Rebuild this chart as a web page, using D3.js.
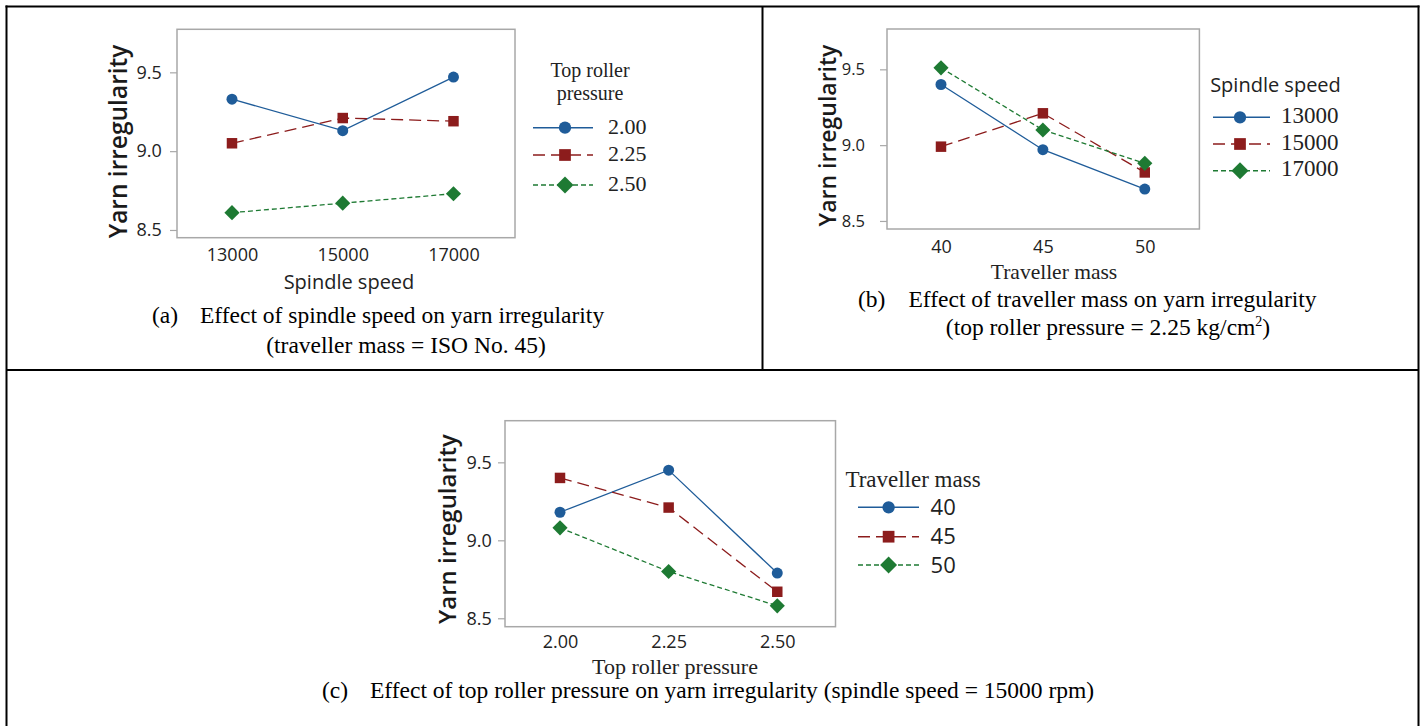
<!DOCTYPE html>
<html><head><meta charset="utf-8">
<script src="https://cdn.jsdelivr.net/npm/d3@7"></script>
<style>body{margin:0;background:#fff} svg{display:block}</style>
</head><body>
<svg id="chart" width="1426" height="726"></svg>
<script>
// ---------- data ----------
const spindleSpeeds = [13000, 15000, 17000];
const travellerMasses = [40, 45, 50];
const rollerPressures = [2.00, 2.25, 2.50];
const yTickValues = [8.5, 9.0, 9.5];

const aSeriesNames = ["2.00", "2.25", "2.50"];
const aPressure200 = [9.33, 9.13, 9.47];
const aPressure225 = [9.05, 9.21, 9.19];
const aPressure250 = [8.61, 8.67, 8.73];

const bSeriesNames = ["13000", "15000", "17000"];
const bSpeed13000 = [9.40, 8.97, 8.71];
const bSpeed15000 = [8.99, 9.21, 8.82];
const bSpeed17000 = [9.51, 9.10, 8.88];

const cSeriesNames = ["40", "45", "50"];
const cMass40 = [9.18, 9.45, 8.79];
const cMass45 = [9.40, 9.21, 8.67];
const cMass50 = [9.08, 8.80, 8.58];

// ---------- styles ----------
const SANS = "'Open Sans', 'Noto Sans', sans-serif";
const SERIF = "'Liberation Serif', 'Times New Roman', serif";
const frameColor = "#a8a8a8";
const seriesStyles = [
  {color: "#1f5c99", dash: null, symbol: "circle"},
  {color: "#8c1c1c", dash: "12,6", symbol: "square"},
  {color: "#1e7a33", dash: "5,3", symbol: "diamond"}
];

const svg = d3.select("#chart");

function symbolPath(kind, big) {
  const k = big ? 1.25 : 1;
  if (kind === "circle") return d3.symbol().type(d3.symbolCircle).size(95 * k)();
  if (kind === "square") return d3.symbol().type(d3.symbolSquare).size(110 * k)();
  return d3.symbol().type(d3.symbolSquare).size(115 * k)();
}

function drawPanel(p) {
  const g = svg.append("g");
  const x = d3.scaleLinear().domain(p.xDomain).range([p.left, p.right]);
  const y = d3.scaleLinear().domain(p.yDomain).range([p.bottom, p.top]);

  g.append("rect")
    .attr("x", p.left).attr("y", p.top)
    .attr("width", p.right - p.left).attr("height", p.bottom - p.top)
    .attr("fill", "none").attr("stroke", frameColor).attr("stroke-width", 1.5);

  // y axis
  const ya = g.append("g").attr("transform", `translate(${p.left},0)`)
    .call(d3.axisLeft(y).tickValues(yTickValues).tickFormat(d3.format(".1f")).tickSize(7).tickPadding(p.yPad));
  ya.select(".domain").remove();
  ya.selectAll(".tick line").attr("stroke", frameColor).attr("stroke-width", 1.2);
  ya.selectAll(".tick text").attr("font-family", SANS).attr("font-size", p.yTickSize).attr("fill", "#222");

  // x axis
  const xa = g.append("g").attr("transform", `translate(0,${p.bottom})`)
    .call(d3.axisBottom(x).tickValues(p.xValues).tickFormat(p.xFormat).tickSize(0));
  xa.select(".domain").remove();
  xa.selectAll(".tick text").attr("dy", null).attr("y", p.xLabelBaseline - p.bottom)
    .attr("font-family", SANS).attr("font-size", 18).attr("fill", "#222");

  // axis titles
  g.append("text").attr("x", p.xTitle.x).attr("y", p.xTitle.y).attr("text-anchor", "middle")
    .attr("font-family", p.xTitle.font).attr("font-size", p.xTitle.size).attr("fill", "#222")
    .text(p.xTitle.text);
  g.append("text").attr("transform", `translate(${p.yTitle.x},${p.yTitle.y}) rotate(-90)`)
    .attr("text-anchor", "middle").attr("dy", "0.35em")
    .attr("font-family", SANS).attr("font-size", p.yTitle.size).attr("font-weight", 600).attr("fill", "#1a1a1a")
    .text("Yarn irregularity");

  // series
  const line = d3.line().x((d, i) => x(p.xValues[i])).y(d => y(d));
  p.series.forEach((vals, si) => {
    const st = seriesStyles[si];
    g.append("path").attr("d", line(vals)).attr("fill", "none")
      .attr("stroke", st.color).attr("stroke-width", 1.3)
      .attr("stroke-dasharray", st.dash);
    g.selectAll(null).data(vals).enter().append("path")
      .attr("d", symbolPath(st.symbol, false))
      .attr("transform", (d, i) => `translate(${x(p.xValues[i])},${y(d)})` + (st.symbol === "diamond" ? " rotate(45)" : ""))
      .attr("fill", st.color);
  });

  // legend
  p.legend.titles.forEach(t => {
    g.append("text").attr("x", t.x).attr("y", t.y).attr("text-anchor", "middle")
      .attr("font-family", p.legend.titleFont).attr("font-size", p.legend.titleSize).attr("fill", "#222")
      .text(t.text);
  });
  p.legend.names.forEach((name, si) => {
    const st = seriesStyles[si];
    const ly = p.legend.ys[si];
    g.append("line").attr("x1", p.legend.lineX[0]).attr("x2", p.legend.lineX[1])
      .attr("y1", ly).attr("y2", ly).attr("stroke", st.color).attr("stroke-width", 1.4)
      .attr("stroke-dasharray", st.dash);
    g.append("path").attr("d", symbolPath(st.symbol, true))
      .attr("transform", `translate(${p.legend.markerX},${ly})` + (st.symbol === "diamond" ? " rotate(45)" : ""))
      .attr("fill", st.color);
    g.append("text").attr("x", p.legend.labelX).attr("y", ly + p.legend.labelDy)
      .attr("font-family", p.legend.labelFont).attr("font-size", p.legend.labelSize).attr("fill", "#222")
      .text(name);
  });

  // caption
  g.append("text").attr("x", p.caption.prefixX).attr("y", p.caption.y)
    .attr("font-family", SERIF).attr("font-size", 23.5).attr("fill", "#000").text(p.caption.prefix);
  g.append("text").attr("x", p.caption.textX).attr("y", p.caption.y)
    .attr("font-family", SERIF).attr("font-size", 23.5).attr("fill", "#000").text(p.caption.text);
  if (p.caption.line2) {
    const t2 = g.append("text").attr("x", p.caption.line2X).attr("y", p.caption.line2Y)
      .attr("text-anchor", "middle").attr("font-family", SERIF).attr("font-size", 23.5).attr("fill", "#000");
    p.caption.line2(t2);
  }
}

// borders
const border = svg.append("g").attr("stroke", "#000").attr("stroke-width", 2);
border.append("line").attr("x1", 5.5).attr("x2", 1419.5).attr("y1", 6.5).attr("y2", 6.5);
border.append("line").attr("x1", 6.5).attr("x2", 6.5).attr("y1", 5.5).attr("y2", 726);
border.append("line").attr("x1", 1418.5).attr("x2", 1418.5).attr("y1", 5.5).attr("y2", 726);
border.append("line").attr("x1", 6.5).attr("x2", 1418.5).attr("y1", 370).attr("y2", 370);
border.append("line").attr("x1", 762.5).attr("x2", 762.5).attr("y1", 6.5).attr("y2", 370);

drawPanel({
  left: 177, right: 515, top: 29.3, bottom: 237.7,
  xDomain: [12007, 18111], yDomain: [8.451, 9.773],
  xValues: spindleSpeeds, xFormat: d3.format("d"),
  yPad: 8.3, yTickSize: 18, xLabelBaseline: 261,
  xTitle: {x: 349, y: 288.5, text: "Spindle speed", font: SANS, size: 20},
  yTitle: {x: 118, y: 141.5, size: 24.5},
  series: [aPressure200, aPressure225, aPressure250],
  legend: {
    titles: [{text: "Top roller", x: 590, y: 77}, {text: "pressure", x: 590, y: 99.5}],
    titleFont: SERIF, titleSize: 20,
    names: aSeriesNames, ys: [127.7, 155, 185],
    lineX: [533, 593], markerX: 565, labelX: 608, labelDy: 6,
    labelFont: SERIF, labelSize: 22
  },
  caption: {
    prefix: "(a)", prefixX: 152, text: "Effect of spindle speed on yarn irregularity", textX: 200, y: 323,
    line2X: 406, line2Y: 353,
    line2: t => t.text("(traveller mass = ISO No. 45)")
  }
});

drawPanel({
  left: 887, right: 1199.4, top: 29, bottom: 229,
  xDomain: [37.35, 52.68], yDomain: [8.447, 9.766],
  xValues: travellerMasses, xFormat: d3.format("d"),
  yPad: 15, yTickSize: 16.5, xLabelBaseline: 252.5,
  xTitle: {x: 1054, y: 278.5, text: "Traveller mass", font: SERIF, size: 21.5},
  yTitle: {x: 828, y: 135.5, size: 23},
  series: [bSpeed13000, bSpeed15000, bSpeed17000],
  legend: {
    titles: [{text: "Spindle speed", x: 1275.5, y: 92}],
    titleFont: SANS, titleSize: 20,
    names: bSeriesNames, ys: [117.3, 144, 170.7],
    lineX: [1213, 1270], markerX: 1240, labelX: 1281, labelDy: 5.5,
    labelFont: SERIF, labelSize: 23
  },
  caption: {
    prefix: "(b)", prefixX: 858, text: "Effect of traveller mass on yarn irregularity", textX: 908.5, y: 307,
    line2X: 1108, line2Y: 335,
    line2: t => {
      t.append("tspan").text("(top roller pressure = 2.25 kg/cm");
      t.append("tspan").attr("dy", -9).attr("font-size", 14).text("2");
      t.append("tspan").attr("dy", 9).text(")");
    }
  }
});

drawPanel({
  left: 505, right: 835.5, top: 420.7, bottom: 626.7,
  xDomain: [1.8734, 2.634], yDomain: [8.446, 9.767],
  xValues: rollerPressures, xFormat: d3.format(".2f"),
  yPad: 6.3, yTickSize: 18, xLabelBaseline: 648.5,
  xTitle: {x: 675, y: 673.5, text: "Top roller pressure", font: SERIF, size: 22},
  yTitle: {x: 448, y: 529, size: 24},
  series: [cMass40, cMass45, cMass50],
  legend: {
    titles: [{text: "Traveller mass", x: 913, y: 486.7}],
    titleFont: SERIF, titleSize: 23,
    names: cSeriesNames, ys: [507.3, 536.7, 565],
    lineX: [858, 919], markerX: 888.6, labelX: 930.6, labelDy: 7.5,
    labelFont: SANS, labelSize: 22
  },
  caption: {
    prefix: "(c)", prefixX: 322, text: "Effect of top roller pressure on yarn irregularity (spindle speed = 15000 rpm)", textX: 370, y: 698
  }
});
</script>
</body></html>
